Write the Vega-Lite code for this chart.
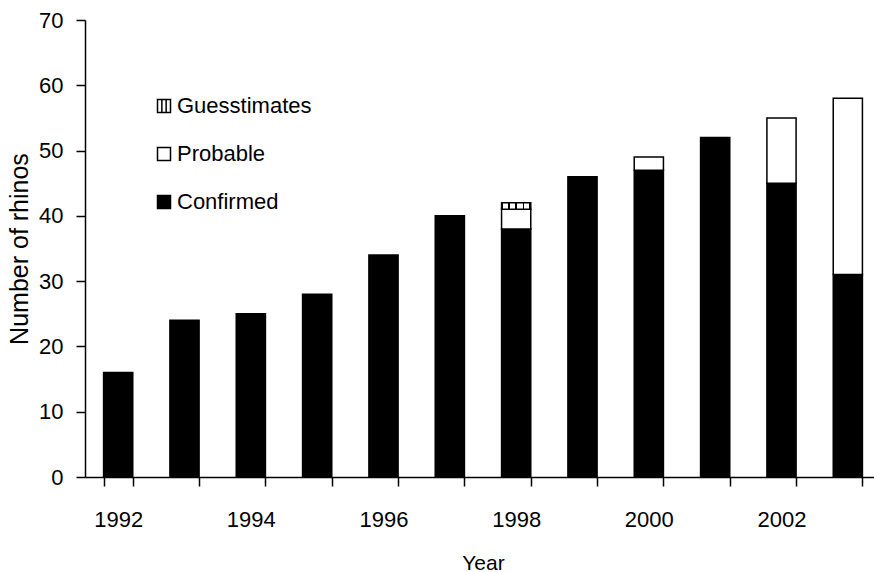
{
  "$schema": "https://vega.github.io/schema/vega-lite/v6.json",
  "autosize": "none",
  "padding": {"left": 85, "top": 20, "right": 0, "bottom": 95},
  "width": 796,
  "height": 457,
  "config": {
    "view": {"stroke": null},
    "font": "Liberation Sans",
    "axis": {"domainColor": "black", "domainWidth": 1.5, "tickColor": "black", "tickWidth": 1.5, "tickSize": 9, "labelColor": "black", "titleColor": "black", "labelFont": "Liberation Sans", "titleFont": "Liberation Sans", "labelFontSize": 22, "titleFontSize": 22, "titleFontWeight": "normal", "grid": false}
  },
  "data": {
    "values": [
      {"year": 1992, "type": "Confirmed", "k": 1, "count": 16},
      {"year": 1993, "type": "Confirmed", "k": 1, "count": 24},
      {"year": 1994, "type": "Confirmed", "k": 1, "count": 25},
      {"year": 1995, "type": "Confirmed", "k": 1, "count": 28},
      {"year": 1996, "type": "Confirmed", "k": 1, "count": 34},
      {"year": 1997, "type": "Confirmed", "k": 1, "count": 40},
      {"year": 1998, "type": "Confirmed", "k": 1, "count": 38},
      {"year": 1998, "type": "Probable", "k": 2, "count": 3},
      {"year": 1998, "type": "Guesstimates", "k": 3, "count": 1},
      {"year": 1999, "type": "Confirmed", "k": 1, "count": 46},
      {"year": 2000, "type": "Confirmed", "k": 1, "count": 47},
      {"year": 2000, "type": "Probable", "k": 2, "count": 2},
      {"year": 2001, "type": "Confirmed", "k": 1, "count": 52},
      {"year": 2002, "type": "Confirmed", "k": 1, "count": 45},
      {"year": 2002, "type": "Probable", "k": 2, "count": 10},
      {"year": 2003, "type": "Confirmed", "k": 1, "count": 31},
      {"year": 2003, "type": "Probable", "k": 2, "count": 27}
    ]
  },
  "mark": {"type": "bar", "stroke": "black", "strokeWidth": 1.5},
  "encoding": {
    "x": {
      "field": "year", "type": "ordinal", "title": "Year",
      "scale": {"paddingInner": 0.56, "paddingOuter": 0.28},
      "axis": {"labelAngle": 0, "tickBand": "extent", "labelPadding": 23, "titlePadding": 22, "titleFontSize": 21,
        "labelExpr": "datum.value % 2 == 0 ? datum.label : ''"}
    },
    "y": {
      "field": "count", "type": "quantitative", "aggregate": "sum", "stack": "zero",
      "title": "Number of rhinos",
      "scale": {"domain": [0, 70], "nice": false},
      "axis": {"values": [0, 10, 20, 30, 40, 50, 60, 70], "labelPadding": 13, "titlePadding": 6, "titleFontSize": 25}
    },
    "order": {"field": "k", "type": "quantitative", "sort": "ascending"},
    "fill": {
      "condition": {
        "test": "datum.type === 'Guesstimates'",
        "value": {"gradient": "linear", "x1": 0, "y1": 0, "x2": 1, "y2": 0, "stops": [
          {"offset": 0, "color": "black"}, {"offset": 0.06, "color": "black"},
          {"offset": 0.06, "color": "white"}, {"offset": 0.22, "color": "white"},
          {"offset": 0.22, "color": "black"}, {"offset": 0.28, "color": "black"},
          {"offset": 0.28, "color": "white"}, {"offset": 0.47, "color": "white"},
          {"offset": 0.47, "color": "black"}, {"offset": 0.53, "color": "black"},
          {"offset": 0.53, "color": "white"}, {"offset": 0.72, "color": "white"},
          {"offset": 0.72, "color": "black"}, {"offset": 0.78, "color": "black"},
          {"offset": 0.78, "color": "white"}, {"offset": 0.94, "color": "white"},
          {"offset": 0.94, "color": "black"}, {"offset": 1, "color": "black"}
        ]}
      },
      "field": "type", "type": "nominal", "title": null,
      "scale": {
        "domain": ["Guesstimates", "Probable", "Confirmed"],
        "range": ["white", "white", "black"]
      },
      "legend": {
        "orient": "none", "legendX": 68, "legendY": 75,
        "symbolType": "square", "symbolSize": 169, "symbolStrokeColor": "black", "symbolStrokeWidth": 1.5,
        "labelFont": "Liberation Sans", "labelFontSize": 22, "labelColor": "black", "labelOffset": 2,
        "rowPadding": 26,
        "encode": {
          "symbols": {
            "update": {
              "stroke": {"value": "black"},
              "strokeWidth": {"value": 1.5},
              "shape": {"signal": "datum.value === 'Guesstimates' ? 'M-1,-1H1V1H-1ZM-0.33,-1V1M0.33,-1V1' : 'square'"}
            }
          }
        }
      }
    }
  }
}
